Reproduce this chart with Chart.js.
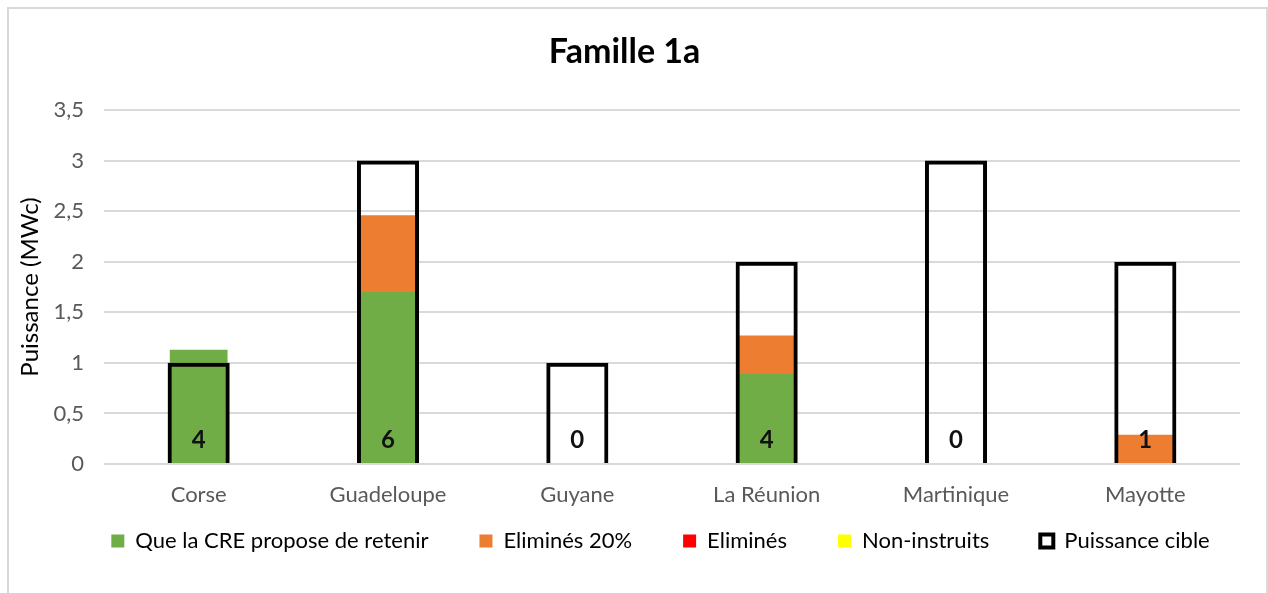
<!DOCTYPE html>
<html>
<head>
<meta charset="utf-8">
<script src="https://cdn.jsdelivr.net/npm/chart.js@4.4.0/dist/chart.umd.min.js"></script>
<style>
  html, body { margin: 0; padding: 0; background: #fff; overflow: hidden; }
  #frame { position: absolute; left: 7px; top: 7px; width: 1257px; height: 600px;
           border: 2px solid #d9d9d9; border-bottom: none; }
  #c { display: block; }
</style>
</head>
<body>
<div id="frame"><canvas id="c" width="1257" height="586"></canvas></div>
<script>
const categories = ['Corse', 'Guadeloupe', 'Guyane', 'La Réunion', 'Martinique', 'Mayotte'];
const retenir = [1.13, 1.70, 0, 0.89, 0, 0];
const elimines20 = [0, 0.76, 0, 0.38, 0, 0.29];
const elimines = [0, 0, 0, 0, 0, 0];
const nonInstruits = [0, 0, 0, 0, 0, 0];
const puissanceCible = [1, 3, 1, 2, 3, 2];
const nbProjets = [4, 6, 0, 4, 0, 1];
const yTicks = [0, 0.5, 1, 1.5, 2, 2.5, 3, 3.5];

const FONT = 'Lato, "Liberation Sans", sans-serif';

const countLabels = {
  id: 'countLabels',
  afterLayout(chart) {
    const lg = chart.legend;
    if (lg) { lg.left += 36; lg.right += 36; }
  },
  afterDatasetsDraw(chart) {
    const ctx = chart.ctx;
    const xs = chart.scales.x;
    const y0 = chart.scales.y.getPixelForValue(0);
    ctx.save();
    ctx.textAlign = 'center';
    ctx.textBaseline = 'middle';
    ctx.font = 'bold 24px ' + FONT;
    ctx.fillStyle = '#111';
    nbProjets.forEach((n, i) => {
      ctx.fillText(String(n), xs.getPixelForValue(i), y0 - 24);
    });
    ctx.font = '22px ' + FONT;
    ctx.fillStyle = '#595959';
    categories.forEach((c, i) => {
      ctx.fillText(c, xs.getPixelForValue(i), y0 + 31);
    });
    ctx.restore();
  }
};

const stackedBar = (label, data, color) => ({
  label, data, backgroundColor: color, borderWidth: 0,
  stack: 'a', order: 1, grouped: false,
  barPercentage: 0.305, categoryPercentage: 1
});

new Chart(document.getElementById('c'), {
  type: 'bar',
  data: {
    labels: categories,
    datasets: [
      stackedBar('Que la CRE propose de retenir', retenir, '#70ad47'),
      stackedBar('Eliminés 20%', elimines20, '#ed7d31'),
      stackedBar('Eliminés', elimines, '#ff0000'),
      stackedBar('Non-instruits', nonInstruits, '#ffff00'),
      {
        label: 'Puissance cible', data: puissanceCible,
        backgroundColor: 'rgba(0,0,0,0)', borderColor: '#000', borderWidth: 4,
        stack: 'b', order: 0, grouped: false,
        barPercentage: 0.328, categoryPercentage: 1
      }
    ]
  },
  options: {
    responsive: false,
    animation: false,
    layout: { padding: { left: 0, right: 26, top: 0, bottom: 33 } },
    plugins: {
      title: {
        display: true, text: 'Famille 1a', color: '#000',
        font: { family: FONT, size: 34, weight: 'bold' },
        padding: { top: 22.6, bottom: 37.6 }
      },
      legend: {
        position: 'bottom',
        labels: {
          color: '#000', font: { family: FONT, size: 22 },
          boxWidth: 13, boxHeight: 13, padding: 51,
          sort: (a, b) => a.datasetIndex - b.datasetIndex
        }
      },
      tooltip: { enabled: false }
    },
    scales: {
      x: {
        stacked: false,
        grid: { display: false },
        border: { display: false },
        afterFit: (s) => { s.height = 15; },
        ticks: { display: false }
      },
      y: {
        stacked: true,
        min: 0, max: 3.5,
        afterBuildTicks: (s) => { s.ticks = yTicks.map(v => ({ value: v })); },
        afterFit: (s) => { s.width = 95; },
        grid: { color: '#d9d9d9', lineWidth: 2, drawTicks: false },
        border: { display: false },
        ticks: {
          color: '#595959', font: { family: FONT, size: 22 }, padding: 20,
          callback: (v) => String(v).replace('.', ',')
        },
        title: {
          display: true, text: 'Puissance (MWc)', color: '#000',
          font: { family: FONT, size: 24 }, padding: { top: 7, bottom: 0 }
        }
      }
    }
  },
  plugins: [countLabels]
});
</script>
</body>
</html>
